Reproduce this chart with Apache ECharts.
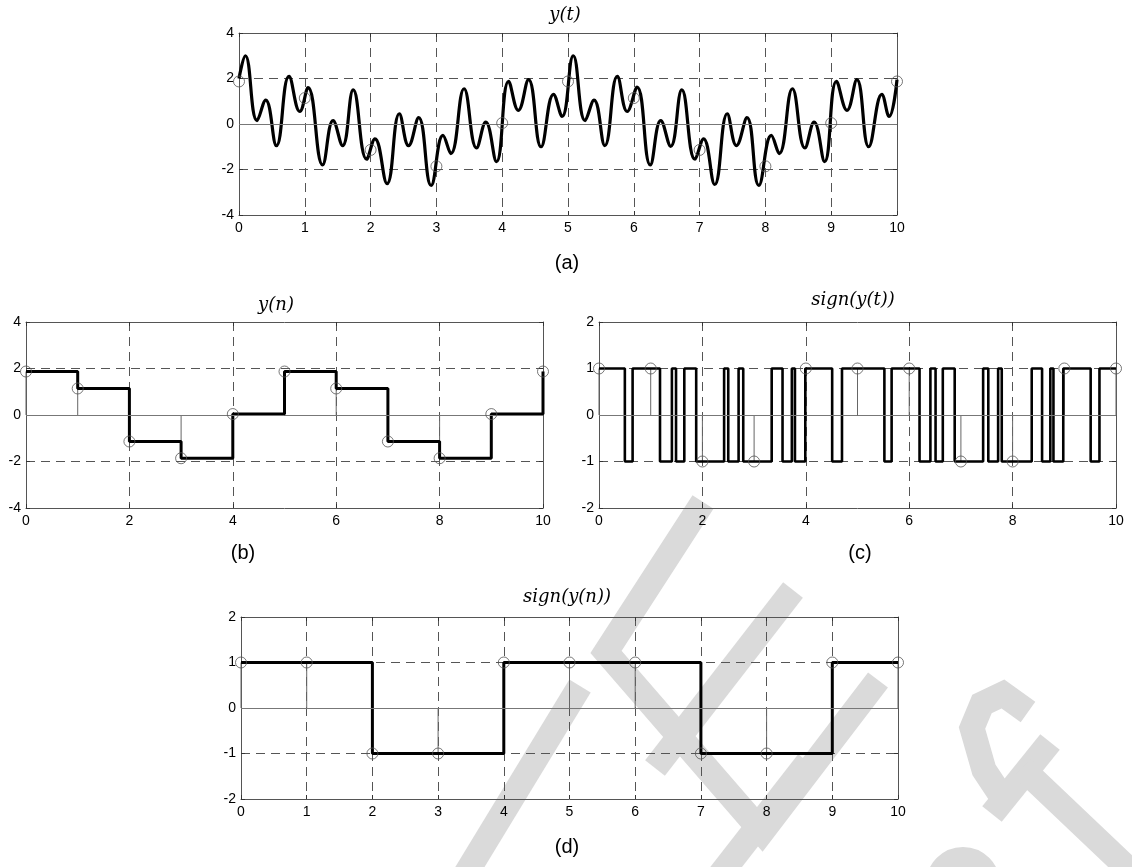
<!DOCTYPE html>
<html>
<head>
<meta charset="utf-8">
<script src="https://cdn.jsdelivr.net/npm/echarts@6/dist/echarts.min.js"></script>
<style>
html,body{margin:0;padding:0;background:#fff;}
#chart{width:1132px;height:867px;}
</style>
</head>
<body>
<div id="chart"></div>
<script>
// ---- data ----
// (a) continuous signal y(t): local extrema (t, value)
const tT = [0, 0.096, 0.274, 0.406, 0.569, 0.76, 0.924, 1.05, 1.27, 1.43,
  1.574, 1.736, 1.94, 2.066, 2.25, 2.437, 2.577, 2.73, 2.92, 3.10,
  3.22, 3.42, 3.61, 3.75, 3.913, 4.097, 4.245, 4.40, 4.59, 4.78,
  4.91, 5.08, 5.26, 5.396, 5.56, 5.75, 5.90, 6.05, 6.25, 6.41,
  6.56, 6.73, 6.93, 7.06, 7.23, 7.42, 7.56, 7.72, 7.90, 8.09,
  8.21, 8.41, 8.60, 8.74, 8.90, 9.08, 9.24, 9.39, 9.57, 9.77,
  9.88, 10];
const yT = [2.0, 3.0, 0.15, 1.05, -0.95, 2.1, 0.55, 1.6, -1.8, 0.15,
  -0.95, 1.5, -1.55, -0.65, -2.62, 0.45, -0.95, 0.28, -2.7, -0.5,
  -1.3, 1.55, -1.05, 0.08, -1.65, 1.88, 0.6, 1.95, -1.0, 1.3,
  0.33, 3.0, 0.15, 1.05, -0.95, 2.1, 0.55, 1.62, -1.8, 0.15,
  -0.98, 1.5, -1.55, -0.65, -2.66, 0.45, -0.95, 0.28, -2.7, -0.5,
  -1.3, 1.55, -1.05, 0.08, -1.65, 1.88, 0.6, 1.95, -1.0, 1.3,
  0.33, 1.95];
// samples n and y(n)
const nIdx = [0, 1, 2, 3, 4, 5, 6, 7, 8, 9, 10];
const yN = [1.87, 1.14, -1.14, -1.86, 0.04, 1.87, 1.14, -1.14, -1.86, 0.04, 1.87];
// (c) sign(y(t)): switching instants and the level after each
const signT = [0, 0.50, 0.65, 1.18, 1.41, 1.49, 1.65, 1.88, 2.42, 2.50,
  2.70, 2.79, 3.34, 3.55, 3.73, 3.79, 3.99, 4.51, 4.70, 5.52,
  5.66, 6.20, 6.41, 6.51, 6.65, 6.88, 7.43, 7.53, 7.72, 7.79,
  8.37, 8.57, 8.73, 8.79, 8.98, 9.51, 9.68, 10];
const signV = [1, -1, 1, -1, 1, -1, 1, -1, 1, -1,
  1, -1, 1, -1, 1, -1, 1, -1, 1, -1,
  1, -1, 1, -1, 1, -1, 1, -1, 1, -1,
  1, -1, 1, -1, 1, -1, 1, 1];
// (d) sign(y(n))
const sN = [1, 1, -1, -1, 1, 1, 1, -1, -1, 1, 1];

const titles = ['y(t)', 'y(n)', 'sign(y(t))', 'sign(y(n))'];
const panelLabels = ['(a)', '(b)', '(c)', '(d)'];

// ---- layout ----
const grids = [
  {left: 239, top: 33, width: 658, height: 182},
  {left: 26, top: 322, width: 517, height: 186},
  {left: 599, top: 322, width: 517, height: 186},
  {left: 241, top: 617, width: 657, height: 182}
];
const axisCfg = [
  {xmin: 0, xmax: 10, xint: 1, ymin: -4, ymax: 4, yint: 2},
  {xmin: 0, xmax: 10, xint: 2, ymin: -4, ymax: 4, yint: 2},
  {xmin: 0, xmax: 10, xint: 2, ymin: -2, ymax: 2, yint: 1},
  {xmin: 0, xmax: 10, xint: 1, ymin: -2, ymax: 2, yint: 1}
];
const titlePos = [[565, 15], [276, 305], [853, 300], [567, 597]];
const labelPos = [[567, 263], [243, 553], [860, 553], [567, 847]];

const FRAME = '#555';
const GRIDC = '#555';
const labelFont = {color: '#000', fontSize: 14, fontFamily: 'Liberation Sans, Arial, sans-serif'};

const xAxes = [], yAxes = [];
axisCfg.forEach((c, g) => {
  xAxes.push({
    type: 'value', gridIndex: g, min: c.xmin, max: c.xmax, interval: c.xint, position: 'bottom',
    axisLine: {show: true, onZero: false, lineStyle: {color: FRAME, width: 1}},
    axisTick: {show: true, inside: true, length: 4, lineStyle: {color: '#333'}},
    axisLabel: Object.assign({margin: 6, showMinLabel: true, showMaxLabel: true}, labelFont),
    splitLine: {show: true, showMinLine: false, showMaxLine: false, lineStyle: {color: GRIDC, type: [9, 6], width: 1}}
  });
  xAxes.push({
    type: 'value', gridIndex: g, min: c.xmin, max: c.xmax, interval: c.xint, position: 'top',
    axisLine: {show: true, onZero: false, lineStyle: {color: FRAME, width: 1}},
    axisTick: {show: true, inside: true, length: 4, lineStyle: {color: '#333'}},
    axisLabel: {show: false}, splitLine: {show: false}
  });
  yAxes.push({
    type: 'value', gridIndex: g, min: c.ymin, max: c.ymax, interval: c.yint, position: 'left',
    axisLine: {show: true, onZero: false, lineStyle: {color: FRAME, width: 1}},
    axisTick: {show: true, inside: true, length: 4, lineStyle: {color: '#333'}},
    axisLabel: Object.assign({margin: 5, showMinLabel: true, showMaxLabel: true}, labelFont),
    splitLine: {show: true, showMinLine: false, showMaxLine: false, lineStyle: {color: GRIDC, type: [9, 6], width: 1}}
  });
  yAxes.push({
    type: 'value', gridIndex: g, min: c.ymin, max: c.ymax, interval: c.yint, position: 'right',
    axisLine: {show: true, onZero: false, lineStyle: {color: FRAME, width: 1}},
    axisTick: {show: true, inside: true, length: 4, lineStyle: {color: '#333'}},
    axisLabel: {show: false}, splitLine: {show: false}
  });
});

const zeroLine = {
  silent: true, symbol: 'none', label: {show: false},
  lineStyle: {color: '#777', type: 'solid', width: 1}, data: [{yAxis: 0}]
};
const circleStyle = {color: 'rgba(0,0,0,0)', borderColor: '#555', borderWidth: 1};
function stems(g, vals) {
  return {type: 'bar', xAxisIndex: 2 * g, yAxisIndex: 2 * g, barWidth: 1, z: 3,
    itemStyle: {color: '#666'}, data: nIdx.map((n, i) => [n, vals[i]]), silent: true};
}
function circles(g, vals) {
  return {type: 'scatter', xAxisIndex: 2 * g, yAxisIndex: 2 * g, symbol: 'circle', symbolSize: 11, z: 5,
    itemStyle: circleStyle, data: nIdx.map((n, i) => [n, vals[i]]), silent: true};
}

const series = [
  // (a)
  {type: 'line', xAxisIndex: 0, yAxisIndex: 0, smooth: 0.45, symbol: 'none', z: 4,
    lineStyle: {color: '#000', width: 3.2}, data: tT.map((t, i) => [t, yT[i]]), markLine: zeroLine},
  circles(0, yN),
  // (b)
  stems(1, yN),
  {type: 'line', xAxisIndex: 2, yAxisIndex: 2, step: 'end', symbol: 'none', z: 4,
    lineStyle: {color: '#000', width: 3}, data: nIdx.map((n, i) => [n, yN[i]]), markLine: zeroLine},
  circles(1, yN),
  // (c)
  stems(2, sN),
  {type: 'line', xAxisIndex: 4, yAxisIndex: 4, step: 'end', symbol: 'none', z: 4,
    lineStyle: {color: '#000', width: 2.6}, data: signT.map((t, i) => [t, signV[i]]), markLine: zeroLine},
  circles(2, sN),
  // (d)
  stems(3, sN),
  {type: 'line', xAxisIndex: 6, yAxisIndex: 6, step: 'end', symbol: 'none', z: 4,
    lineStyle: {color: '#000', width: 3}, data: nIdx.map((n, i) => [n, sN[i]]), markLine: zeroLine},
  circles(3, sN)
];

const graphics = [];
// light grey watermark behind the plots (decoration, not data)
const WM = {stroke: '#dadada', lineWidth: 25, fill: null, lineCap: 'butt', lineJoin: 'miter'};
const wmPaths = [
  [[703, 502], [606, 652], [762, 832], [878, 680]],
  [[580, 686], [462, 880]],
  [[793, 590], [655, 768]],
  [[808, 762], [716, 880]],
  [[1028, 712], [1003, 694], [982, 704], [972, 728], [984, 770], [1004, 800]],
  [[1050, 742], [992, 814]],
  [[1022, 768], [1140, 880]]
];
wmPaths.forEach(p => graphics.push({type: 'polyline', z: -100, silent: true,
  shape: {points: p, smooth: 0}, style: Object.assign({}, WM)}));
graphics.push({type: 'arc', z: -100, silent: true,
  shape: {cx: 963, cy: 884, r: 26, startAngle: Math.PI, endAngle: 2 * Math.PI},
  style: Object.assign({}, WM, {lineWidth: 22})});

titles.forEach((t, i) => graphics.push({type: 'text', z: 10, style: {text: t, x: titlePos[i][0], y: titlePos[i][1],
  font: 'italic 18px "DejaVu Serif", serif', fill: '#000', textAlign: 'center', textVerticalAlign: 'middle'}}));
panelLabels.forEach((t, i) => graphics.push({type: 'text', z: 10, style: {text: t, x: labelPos[i][0], y: labelPos[i][1],
  font: '20px "Liberation Sans", Arial, sans-serif', fill: '#000', textAlign: 'center', textVerticalAlign: 'middle'}}));

const chart = echarts.init(document.getElementById('chart'), null, {renderer: 'canvas'});
chart.setOption({
  backgroundColor: '#fff',
  animation: false,
  grid: grids,
  xAxis: xAxes,
  yAxis: yAxes,
  series: series,
  graphic: graphics
});
</script>
</body>
</html>
